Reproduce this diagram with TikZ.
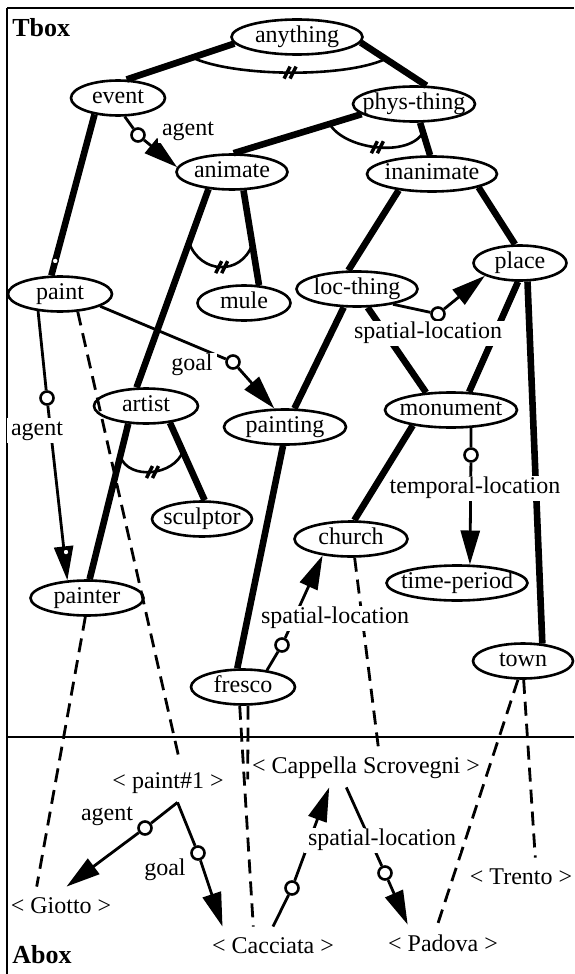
\documentclass[tikz,border=0pt]{standalone}
\usepackage{fontspec}
\setmainfont{Liberation Serif}
\usetikzlibrary{arrows.meta, shapes.geometric}

\begin{document}
\begin{tikzpicture}[
    x=0.5pt, y=-0.5pt,
    font=\fontsize{12}{14}\selectfont,
    concept/.style={ellipse, draw, line width=1.3pt, inner sep=0pt,
        minimum width=#1, minimum height=17.5pt, text height=8pt, text depth=2.5pt,
        execute at begin node={\hbox to 0pt\bgroup\hss},
        execute at end node={\hss\egroup}},
    inst/.style={inner xsep=2pt, inner ysep=5pt, text height=8pt, text depth=2pt},
    isa/.style={line width=3.3pt},
    role/.style={-{Triangle[length=17pt, width=9.5pt]}, line width=1.4pt},
    knob/.style={circle, draw, fill=white, line width=1.3pt, inner sep=0pt, minimum size=6.5pt},
    pip/.style={circle, draw, fill=white, line width=0.6pt, inner sep=0pt, minimum size=3pt},
    inof/.style={line width=1.4pt, dash pattern=on 7pt off 4pt},
    disjarc/.style={line width=1.3pt},
    rolelabel/.style={fill=white, inner xsep=2pt, inner ysep=1pt, text height=8pt, text depth=2.5pt},
    boxlabel/.style={font=\fontsize{13}{15}\selectfont\bfseries, inner sep=0pt, anchor=west},
    boxframe/.style={line width=1.4pt},
    disj/.pic={\draw[line width=1.7pt] (-5,6) -- (1,-6) (1,6) -- (7,-6);}
]
\useasboundingbox (0,0) rectangle (574,974);

% frame
\draw[boxframe] (7,8) -- (574,8);
\draw[boxframe] (7,8) -- (7,974);
\draw[boxframe] (7,737) -- (574,737);
\node[boxlabel] (tbox_label) at (12,28) {Tbox};
\node[boxlabel] (abox_label) at (12,955) {Abox};

% Tbox concepts
\node[concept=65.5pt] (anything) at (297,37) {anything};
\node[concept=47pt] (event) at (118,98) {event};
\node[concept=61pt] (phys_thing) at (414,104) {phys-thing};
\node[concept=55.5pt] (animate) at (232,172) {animate};
\node[concept=65pt] (inanimate) at (432,174) {inanimate};
\node[concept=46.5pt] (mule) at (244,303) {mule};
\node[concept=60.5pt] (loc_thing) at (357,289) {loc-thing};
\node[concept=46.5pt] (place) at (520,263) {place};
\node[concept=52pt] (paint) at (60,294) {paint};
\node[concept=52pt] (artist) at (146,406) {artist};
\node[concept=61pt] (painting) at (285,427) {painting};
\node[concept=66pt] (monument) at (451,410) {monument};
\node[concept=50pt] (sculptor) at (202,519) {sculptor};
\node[concept=56.5pt] (church) at (351,539) {church};
\node[concept=70.5pt] (time_period) at (457,583) {time-period};
\node[concept=56.5pt] (painter) at (87,598) {painter};
\node[concept=52pt] (fresco) at (243,687) {fresco};
\node[concept=50pt] (town) at (523,661) {town};

% Abox individuals
\node[inst] (paint1) at (168,782) {< paint\#1 >};
\node[inst] (cappella) at (366,767) {< Cappella Scrovegni >};
\node[inst] (giotto) at (61,907) {< Giotto >};
\node[inst] (cacciata) at (273,947) {< Cacciata >};
\node[inst] (padova) at (443,945) {< Padova >};
\node[inst] (trento) at (521,878) {< Trento >};

% role knobs
\node[knob] (agent_knob1) at (138,135) {};
\node[knob] (agent_knob2) at (47,398) {};
\node[knob] (goal_knob1) at (233,362) {};
\node[knob] (sploc_knob1) at (438,314) {};
\node[knob] (temploc_knob) at (471,455) {};
\node[knob] (sploc_knob2) at (282,645) {};
\node[knob] (agent_knob3) at (145,828) {};
\node[knob] (goal_knob2) at (198,853) {};
\node[knob] (sploc_knob3) at (292,888) {};
\node[knob] (sploc_knob4) at (385,873) {};

% is-a links
\draw[isa] (anything.186) -- coordinate[pos=.39] (disj1_a) (event.65);
\draw[isa] (anything.355) -- coordinate[pos=.38] (disj1_b) (phys_thing.56);
\draw[isa] (phys_thing.191) -- coordinate[pos=.25] (disj2_a) (animate.85);
\draw[isa] (phys_thing.288) -- coordinate[pos=.3] (disj2_b) (inanimate.96);
\draw[isa] (event.215) -- node[pip, pos=.91] (paint_pip) {} (paint.115);
\draw[isa] (animate.216) -- coordinate[pos=.27] (disj3_a) (artist.117);
\draw[isa] (animate.302) -- coordinate[pos=.57] (disj3_b) (mule.50);
\draw[isa] (inanimate.206) -- (loc_thing.115);
\draw[isa] (inanimate.344) -- (place.105);
\draw[isa] (loc_thing.300) -- (monument.145);
\draw[isa] (place.264) -- (monument.45);
\draw[isa] (place.292) -- (town.42);
\draw[isa] (artist.225) -- coordinate[pos=.21] (disj4_a) (painter.82);
\draw[isa] (artist.325) -- coordinate[pos=.37] (disj4_b) (sculptor.82);
\draw[isa] (loc_thing.234) -- (painting.63);
\draw[isa] (painting.264) -- (fresco.107);
\draw[isa] (monument.202) -- (church.80);

% disjointness
\draw[disjarc] (disj1_a) to[out=-25, in=205, looseness=.6] coordinate[pos=.5] (disj1_m) (disj1_b);
\draw[disjarc] (disj2_a) to[out=-60, in=240, looseness=.8] coordinate[pos=.5] (disj2_m) (disj2_b);
\draw[disjarc] (disj3_a) to[out=-70, in=250, looseness=1.35] coordinate[pos=.5] (disj3_m) (disj3_b);
\draw[disjarc] (disj4_a) to[out=-70, in=250, looseness=1.05] coordinate[pos=.5] (disj4_m) (disj4_b);
\pic at (disj1_m) {disj};
\pic at (disj2_m) {disj};
\pic at (disj3_m) {disj};
\pic at (disj4_m) {disj};

% roles
\draw[role] (event.290) -- (agent_knob1) -- (animate.175);
\draw[role] (paint.218) -- (agent_knob2) -- (painter.138);
\draw[role] (paint.343) -- (goal_knob1) -- (painting.120);
\draw[role] (loc_thing.337) -- (sploc_knob1) -- (place.200);
\draw[role] (monument.318) -- (temploc_knob) -- (time_period.55);
\draw[role] (fresco.35) -- (sploc_knob2) -- (church.210);
\draw[role] (paint1.-65) -- (agent_knob3) -- (giotto.75);
\draw[role] (paint1.-65) -- (goal_knob2) -- (cacciata.158);
\draw[role] (cacciata.north) -- (sploc_knob3) -- (cappella.209);
\draw[role] (cappella.226) -- (sploc_knob4) -- (padova.150);
\node[pip] (painter_pip) at (66,552) {};

% instance-of links
\draw[inof] (paint.315) -- (paint1.60);
\draw[inof] (painter.265) -- (giotto.140);
\draw[inof] (fresco.260) -- (cacciata.134);
\draw[inof] (fresco.285) -- (cappella.186);
\draw[inof] (church.281) -- (cappella.59);
\draw[inof] (town.255) -- (padova.105);
\draw[inof] (town.272) -- (trento.55);

% role labels
\node[rolelabel] (agent_label1) at (188,130) {agent};
\node[rolelabel] (agent_label2) at (37,430) {agent};
\node[rolelabel] (goal_label1) at (192,365) {goal};
\node[rolelabel] (sploc_label1) at (428,333) {spatial-location};
\node[rolelabel] (temploc_label) at (475,488) {temporal-location};
\node[rolelabel] (sploc_label2) at (335,618) {spatial-location};
\node[rolelabel] (agent_label3) at (107,815) {agent};
\node[rolelabel] (goal_label2) at (165,870) {goal};
\node[rolelabel] (sploc_label3) at (382,840) {spatial-location};

\end{tikzpicture}
\end{document}
